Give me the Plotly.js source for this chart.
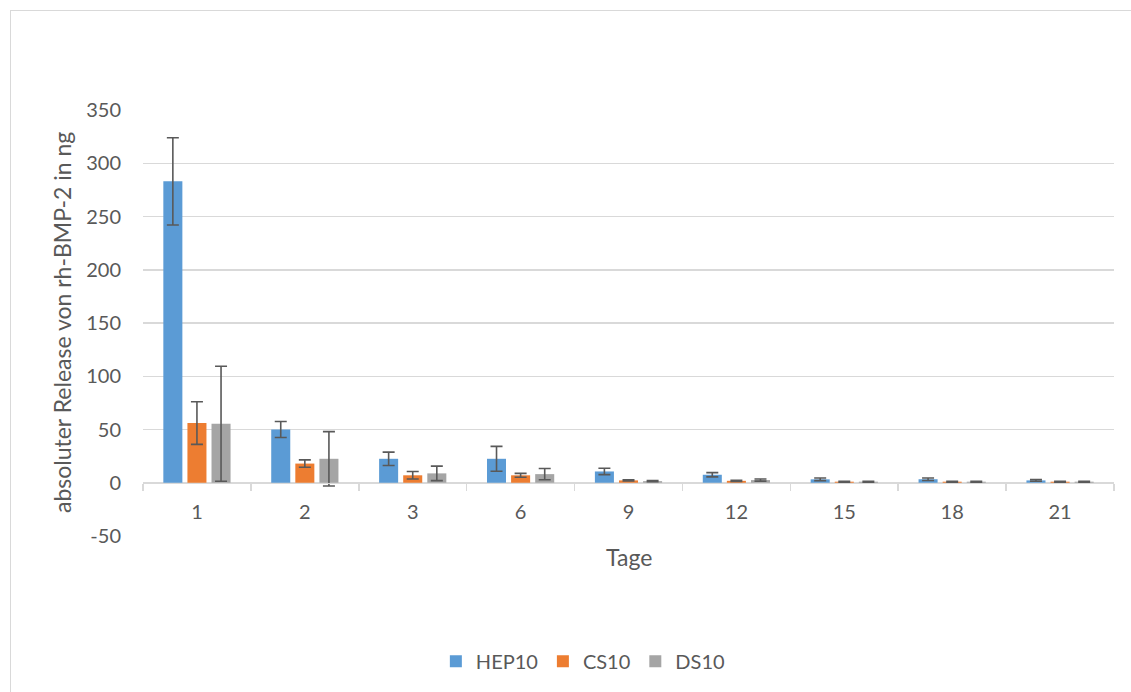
<!DOCTYPE html>
<html>
<head>
<meta charset="utf-8">
<script src="https://cdn.plot.ly/plotly-3.0.1.min.js"></script>
<style>
html,body{margin:0;padding:0;background:#fff;}
#wrap{position:relative;width:1131px;height:692px;}
#chart{width:1131px;height:692px;}
#frame{position:absolute;left:10px;top:10px;width:1125px;height:690px;border-top:1px solid #d9d9d9;border-left:1px solid #d9d9d9;pointer-events:none;}
</style>
</head>
<body>
<div id="wrap"><div id="chart"></div><div id="frame"></div></div>
<script>
var days = ["1", "2", "3", "6", "9", "12", "15", "18", "21"];
var hep10 = [283, 50, 22.5, 22.5, 10.6, 7.5, 3.2, 3.3, 2.2];
var hep10Err = [41, 7.5, 6.3, 11.7, 3, 2, 1.2, 1.2, 0.8];
var cs10 = [56, 18, 7, 7, 2.2, 1.8, 1, 1, 1];
var cs10Err = [20, 3.5, 3.5, 1.8, 0.6, 0.5, 0.4, 0.4, 0.4];
var ds10 = [55.4, 22.5, 8.8, 8.1, 1.5, 2.5, 1, 1, 1];
var ds10Err = [54, 25.5, 6.8, 5.3, 0.5, 1, 0.4, 0.4, 0.4];
var yTicks = [-50, 0, 50, 100, 150, 200, 250, 300, 350];

var FONT = "Lato, 'Open Sans', sans-serif";
var TXT = "#595959";
function errOpts(arr){
  return {type:"data", array:arr, visible:true, color:"#595959", thickness:1.6, width:6};
}
var traces = [
  {type:"bar", name:"HEP10", x:days, y:hep10, error_y:errOpts(hep10Err), marker:{color:"#5B9BD5"}},
  {type:"bar", name:"CS10", x:days, y:cs10, error_y:errOpts(cs10Err), marker:{color:"#ED7D31"}},
  {type:"bar", name:"DS10", x:days, y:ds10, error_y:errOpts(ds10Err), marker:{color:"#A5A5A5"}}
];
var layout = {
  width:1131, height:692,
  margin:{l:143, r:17, t:110, b:155},
  paper_bgcolor:"#fff", plot_bgcolor:"#fff",
  font:{family:FONT, size:20, color:TXT},
  barmode:"group", bargap:0.33, bargroupgap:0.21,
  showlegend:true,
  legend:{orientation:"h", x:0.453, xanchor:"center", y:-0.291, yanchor:"middle",
          font:{family:FONT, size:20, color:TXT}, itemwidth:30, traceorder:"normal"},
  xaxis:{type:"category", anchor:"free", position:0.125,
         showline:true, linecolor:"#d9d9d9", linewidth:1.5,
         ticks:"outside", tickson:"boundaries", ticklen:7, tickcolor:"#d9d9d9", tickwidth:1.5,
         showgrid:false, tickfont:{family:FONT, size:20, color:TXT}, ticklabelstandoff:11,
         fixedrange:true},
  yaxis:{range:[-50,350], tickvals:yTicks, ticktext:yTicks.map(String),
         showgrid:true, gridcolor:"#d9d9d9", gridwidth:1.5, zeroline:false,
         showline:false, ticks:"", ticklabelstandoff:21,
         tickfont:{family:FONT, size:20, color:TXT}, fixedrange:true},
  annotations:[
    {text:"Tage", xref:"paper", yref:"paper", x:0.5, y:-0.05, xanchor:"center", yanchor:"middle",
     showarrow:false, font:{family:FONT, size:23, color:TXT}},
    {text:"absoluter Release von rh-BMP-2 in ng", xref:"paper", yref:"paper", x:-0.0834, y:0.5,
     xanchor:"center", yanchor:"middle", textangle:-90, showarrow:false,
     font:{family:FONT, size:23, color:TXT}}
  ]
};
Plotly.newPlot("chart", traces, layout, {displayModeBar:false, staticPlot:true});
</script>
</body>
</html>
